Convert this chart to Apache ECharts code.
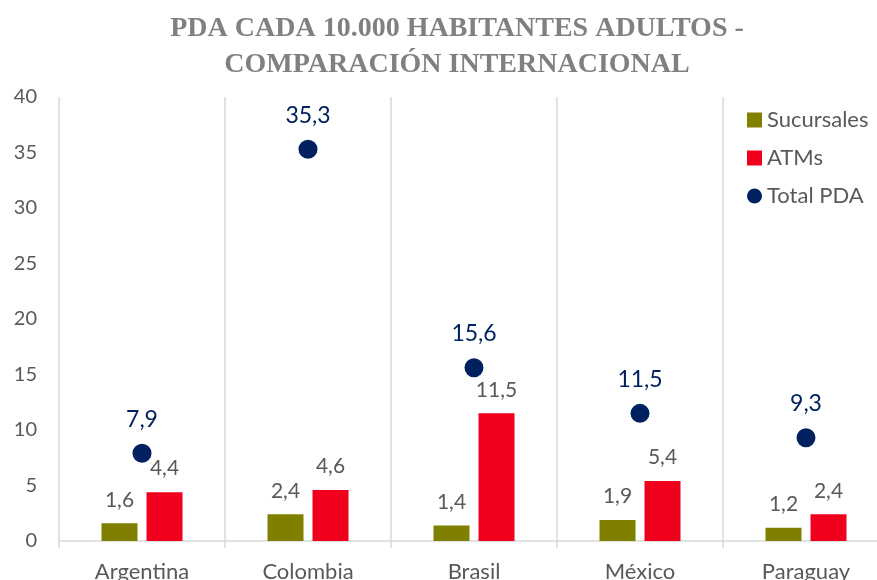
<!DOCTYPE html>
<html>
<head>
<meta charset="utf-8">
<script src="https://cdn.jsdelivr.net/npm/echarts@6/dist/echarts.min.js"></script>
<style>
  html, body { margin: 0; padding: 0; background: #fff; }
  #chart-container { width: 877px; height: 580px; }
</style>
</head>
<body>
<div id="chart-container"></div>
<script>
let paises = ['Argentina', 'Colombia', 'Brasil', 'México', 'Paraguay'];
let sucursales = [1.6, 2.4, 1.4, 1.9, 1.2];
let atms = [4.4, 4.6, 11.5, 5.4, 2.4];
let totalPda = [7.9, 35.3, 15.6, 11.5, 9.3];

let dom = document.getElementById('chart-container');
let myChart = echarts.init(dom, null, { renderer: 'canvas' });

// decimal comma
function coma(p) {
    return String(p.value).replace('.', ',');
}

let gris = '#595959';
let option = {
    animation: false,
    title: {
        text: 'PDA CADA 10.000 HABITANTES ADULTOS -\nCOMPARACIÓN INTERNACIONAL',
        left: 452,
        textAlign: 'center',
        top: 6,
        textStyle: {
            fontFamily: 'Liberation Serif',
            fontWeight: 'bold',
            fontSize: 28,
            lineHeight: 36,
            color: '#808080'
        }
    },
    legend: {
        orient: 'vertical',
        left: 742,
        top: 104,
        itemGap: 16,
        itemWidth: 15,
        itemHeight: 15,
        textStyle: { fontFamily: 'Lato', fontSize: 22, color: gris },
        data: [
            { name: 'Sucursales', icon: 'rect' },
            { name: 'ATMs', icon: 'rect' },
            { name: 'Total PDA', icon: 'circle' }
        ]
    },
    // plot area runs past the right edge of the picture, labels cut at the bottom
    grid: { left: 59, top: 97, width: 830, bottom: 39, outerBoundsMode: 'none' },
    xAxis: {
        type: 'category',
        data: paises,
        axisLine: { lineStyle: { color: '#d9d9d9', width: 1.5 } },
        axisTick: { show: true, length: 7, lineStyle: { color: '#d9d9d9', width: 1.5 } },
        splitLine: { show: true, lineStyle: { color: '#d9d9d9', width: 1.5 } },
        axisLabel: { fontFamily: 'Lato', fontSize: 22, color: gris, margin: 20 }
    },
    yAxis: {
        type: 'value',
        min: 0,
        max: 40,
        interval: 5,
        splitLine: { show: false },
        axisLine: { show: false },
        axisLabel: { fontFamily: 'Lato', fontSize: 20, color: gris, margin: 22 }
    },
    series: [
        {
            name: 'Sucursales',
            type: 'bar',
            data: sucursales,
            barWidth: 36,
            barGap: '25%',
            itemStyle: { color: '#7f7f00' },
            label: { show: true, position: 'top', distance: 13, formatter: coma,
                fontFamily: 'Lato', fontSize: 21, color: gris }
        },
        {
            name: 'ATMs',
            type: 'bar',
            data: atms,
            barWidth: 36,
            barGap: '25%',
            itemStyle: { color: '#f0001c' },
            label: { show: true, position: 'top', distance: 13, formatter: coma,
                fontFamily: 'Lato', fontSize: 21, color: gris }
        },
        {
            name: 'Total PDA',
            type: 'scatter',
            data: totalPda,
            symbolSize: 19,
            itemStyle: { color: '#002060', opacity: 1 },
            label: { show: true, position: 'top', distance: 13, formatter: coma,
                fontFamily: 'Lato', fontSize: 23, color: '#002060' }
        }
    ]
};

myChart.setOption(option);
window.addEventListener('resize', myChart.resize);
</script>
</body>
</html>
